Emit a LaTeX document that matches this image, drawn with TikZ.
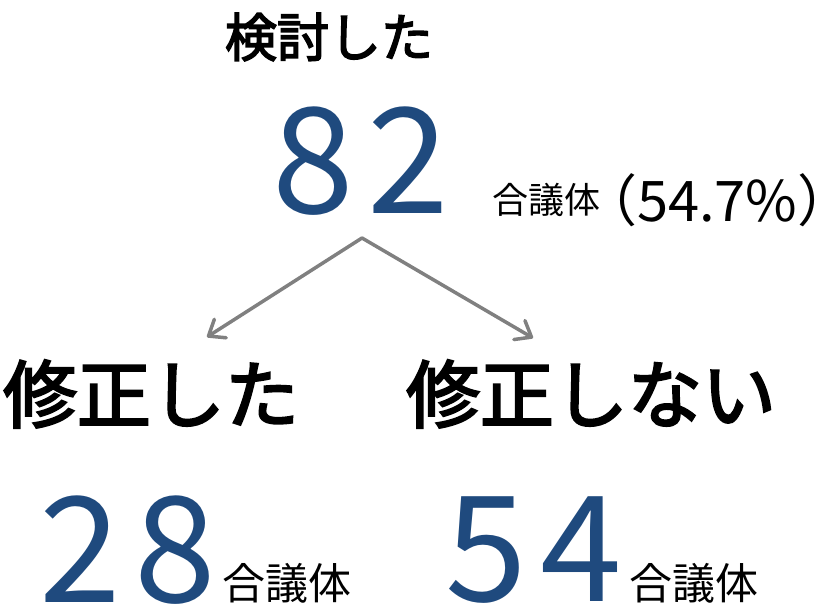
\documentclass[tikz,border=0pt]{standalone}
\usepackage{fontspec}
\setmainfont{Noto Sans CJK JP}
\newfontfamily\headfont{Noto Sans CJK JP}[FakeBold=3]
\newfontfamily\numfont{Noto Sans CJK JP}[LetterSpace=9]
\usetikzlibrary{arrows.meta}
\definecolor{numblue}{HTML}{1F4A7E}
\definecolor{arrowgray}{HTML}{808080}
\tikzset{
  lbl/.style={inner sep=0pt, outer sep=0pt, text=black},
  head/.style={inner sep=0pt, outer sep=0pt, text=black},
  bignum/.style={inner sep=0pt, outer sep=0pt, text=numblue, font=\numfont\fontsize{147}{147}\selectfont},
  unitsmall/.style={inner sep=0pt, outer sep=0pt, text=black, font=\fontsize{43}{43}\selectfont},
  flow/.style={draw=arrowgray, line width=3.5pt, line cap=round, line join=round,
    -{Straight Barb[length=14pt, width=22pt, line width=3.5pt, round]}}
}
\begin{document}
\begin{tikzpicture}[x=1pt,y=-1pt]
\useasboundingbox (0,0) rectangle (817,607);
\node[head, font=\headfont\fontsize{52}{52}\selectfont] (kento) at (329,37) {検討した};
\node[bignum] (n82) at (361,161) {82};
\node[lbl, anchor=base west] (unit82) at (492,222)
  {\fontsize{36}{36}\selectfont\raisebox{8.5pt}{合議体}\fontsize{56}{56}\selectfont\kern-19pt（54.7\%）\kern-0.5em};
\node[head, font=\headfont\fontsize{74}{74}\selectfont] (shusei) at (151,394) {修正した};
\node[head, font=\headfont\fontsize{74}{74}\selectfont] (noshusei) at (591,394) {修正しない};
\node[bignum] (n28) at (128,550) {28};
\node[unitsmall] (unit28) at (287,583) {合議体};
\node[bignum] (n54) at (534,550) {54};
\node[unitsmall] (unit54) at (694,583) {合議体};
\coordinate (apex) at (362,238);
\coordinate (ltip) at (207,337);
\coordinate (rtip) at (533,338);
\draw[flow] (apex) -- (ltip);
\draw[flow] (apex) -- (rtip);
\end{tikzpicture}
\end{document}
